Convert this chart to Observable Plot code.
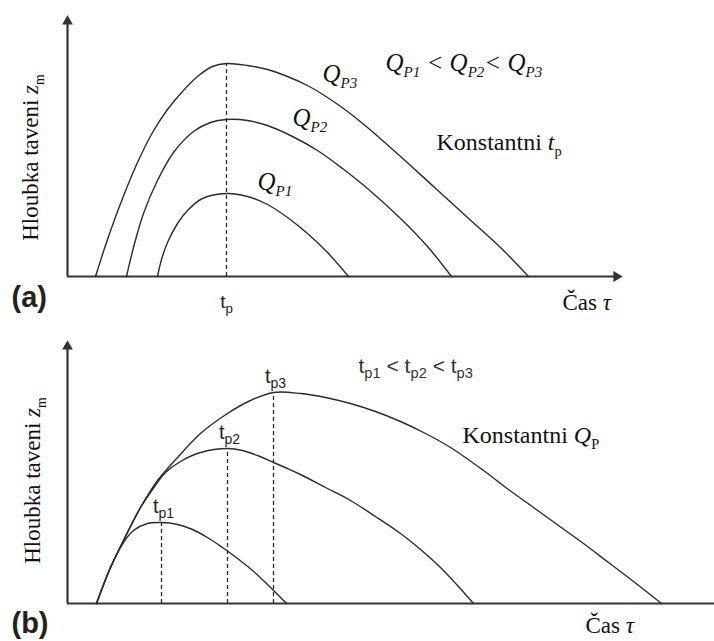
<!DOCTYPE html>
<html><head><meta charset="utf-8">
<script src="https://cdn.jsdelivr.net/npm/d3@7"></script>
<script src="https://cdn.jsdelivr.net/npm/@observablehq/plot@0.6"></script>
<style>
body{margin:0;background:#fff;}
#chart{width:714px;height:641px;position:relative;background:#fff;}
#chart svg{display:block;overflow:visible;}
</style></head><body><div id="chart"></div>
<script>
// ---------- Panel (a): constant t_p, three Q_P (time t, melt depth h; picture units)
const qp1 = [[90,0],[94,17],[100,34],[110,53],[120,66],[135,78],[159,83],[180,80],[200,72],[220,59],[240,43],[260,24],[281,0]];
const qp2 = [[59,0],[66,29],[76,63],[90,96],[106,124],[126,145],[143,154],[159,157],[180,156],[200,151],[225,140],[250,126],[275,108],[300,88],[333,58],[360,30],[384,0]];
const qp3 = [[28,0],[40,37],[55,78],[70,114],[85,144],[100,167],[115,185],[130,200],[145,210],[159,213],[180,211],[200,207],[220,200],[240,191],[260,179],[280,165],[300,149],[333,120],[366,90],[400,59],[433,29],[461,0]];
const seriesA = ["Q_P1", "Q_P2", "Q_P3"];
const peakA = [[159, 213]];
const axisTipA = [555, 261];       // end of time axis, end of depth axis

// ---------- Panel (b): constant Q_P, three t_p
const tp1 = [[29,0],[43,36],[56,61],[66,73],[80,80],[94,81],[110,79],[125,74],[140,66],[155,56],[170,45],[185,33],[200,19],[219,0]];
const tp2 = [[29,0],[43,36],[56,63],[73,96],[85,114],[98,131],[113,142],[133,151],[160,155],[175,153],[190,148],[206,141],[220,135],[233,129],[258,116],[283,103],[308,87],[333,70],[353,54],[373,36],[390,18],[406,0]];
const tp3 = [[29,0],[43,36],[56,63],[73,96],[90,123],[110,146],[133,170],[160,190],[183,203],[206,211],[233,210],[258,206],[283,200],[308,192],[333,182],[358,170],[383,156],[416,133],[441,114],[466,96],[491,78],[516,60],[541,41],[566,22],[594,0]];
const seriesB = ["t_p1", "t_p2", "t_p3"];
const peakB = [[94,81],[160,155],[206,211]];
const peakLabelsB = ["t_{p1}", "t_{p2}", "t_{p3}"];
const axisTipB = [647, 263];

// ---------- Texts
const yTitle = "Hloubka taveni *z*_{m}";
const xTitle = "Čas *τ*";
const panelTags = ["(a)", "(b)"];
const curveLabelsA = ["Q_{P1}", "Q_{P2}", "Q_{P3}"];
const orderA = "Q_{P1} < Q_{P2}< Q_{P3}";
const constA = "Konstantni *t*_{p}";
const peakLabelA = "t_{p}";
const orderB = "t_{p1} < t_{p2} < t_{p3}";
const constB = "Konstantni *Q*_{P}";

// annotation anchors (time, depth) in the same picture units
const curveLabelPosA = [[190,87],[225,151],[255,195]];

const INK = "#2b2b2b", AXIS = "#333";
const SERIF = "Liberation Serif", SANS = "Liberation Sans";

function tidy(names, arrays) {
  return names.flatMap((n, i) => arrays[i].map(([t, h]) => ({series: n, t, h})));
}
function pts(arr) { return arr.map(([t, h]) => ({t, h})); }

function richText(root) {
  for (const el of root.querySelectorAll("text")) {
    const s = el.textContent;
    if (!/\*|_\{/.test(s)) continue;
    const g = el.closest("[font-family]");
    const sans = g && /Sans/.test(g.getAttribute("font-family"));
    el.textContent = "";
    let shifted = false;
    const re = /\*([^*]+)\*|_\{([^}]*)\}|([^*_]+)/g;
    let m;
    while ((m = re.exec(s))) {
      const sp = document.createElementNS("http://www.w3.org/2000/svg", "tspan");
      if (m[2] !== undefined) {
        sp.textContent = m[2];
        sp.setAttribute("style", sans ? "font-size:70%" : "font-size:60%");
        sp.setAttribute("dy", sans ? "0.4em" : "0.45em");
        shifted = true;
      } else {
        sp.textContent = m[1] !== undefined ? m[1] : m[3];
        if (m[1] !== undefined) sp.setAttribute("font-style", "italic");
        if (shifted) { sp.setAttribute("dy", sans ? "-0.28em" : "-0.27em"); shifted = false; }
      }
      el.appendChild(sp);
    }
  }
}

function axesMarks(tip, arrowX) {
  const m = [
    Plot.ruleY([0], {x1: 0, x2: arrowX ? tip[0] - 6 : tip[0], stroke: AXIS, strokeWidth: 2.2}),
    Plot.ruleX([0], {y1: 0, y2: tip[1] - 6, stroke: AXIS, strokeWidth: 2.2}),
    Plot.dot([{t: 0, h: tip[1] - 6}], {x: "t", y: "h", symbol: "triangle", r: 4, fill: AXIS, stroke: "none"})
  ];
  if (arrowX) m.push(Plot.dot([{t: tip[0] - 6, h: 0}], {x: "t", y: "h", symbol: "triangle", r: 4, rotate: 90, fill: AXIS, stroke: "none"}));
  return m;
}

const chart = document.getElementById("chart");

// ----- Panel (a)
const plotA = Plot.plot({
  width: 714, height: 320,
  marginLeft: 67, marginRight: 0, marginTop: 0, marginBottom: 44,
  x: {domain: [0, 647], axis: null},
  y: {domain: [0, 276], axis: null},
  style: {background: "transparent", overflow: "visible"},
  marks: [
    axesMarks(axisTipA, true),
    Plot.ruleX(pts(peakA), {x: "t", y1: 0, y2: "h", stroke: INK, strokeWidth: 1.3, strokeDasharray: "4,3"}),
    Plot.line(tidy(seriesA, [qp1, qp2, qp3]), {x: "t", y: "h", z: "series", curve: "catmull-rom", stroke: INK, strokeWidth: 1.4}),
    Plot.text(curveLabelPosA.map(([t, h], i) => ({t, h, label: curveLabelsA[i]})), {x: "t", y: "h", text: "label", textAnchor: "start", lineAnchor: "bottom", fontFamily: SERIF, fontStyle: "italic", fontSize: 25, fill: "#111"}),
    Plot.text([{t: 318, h: 206, label: orderA}], {x: "t", y: "h", text: "label", textAnchor: "start", lineAnchor: "bottom", fontFamily: SERIF, fontStyle: "italic", fontSize: 25, fill: "#111"}),
    Plot.text([{t: 369, h: 127, label: constA}], {x: "t", y: "h", text: "label", textAnchor: "start", lineAnchor: "bottom", fontFamily: SERIF, fontSize: 24, fill: "#111"}),
    Plot.text([{t: 495, h: -33, label: xTitle}], {x: "t", y: "h", text: "label", textAnchor: "start", lineAnchor: "bottom", fontFamily: SERIF, fontSize: 23, fill: "#111"}),
    Plot.text([{t: -37, h: 119, label: yTitle}], {x: "t", y: "h", text: "label", rotate: -90, textAnchor: "middle", lineAnchor: "middle", fontFamily: SERIF, fontSize: 23, fill: "#111"}),
    Plot.text([{t: -56, h: -30, label: panelTags[0]}], {x: "t", y: "h", text: "label", textAnchor: "start", lineAnchor: "bottom", fontFamily: SANS, fontWeight: "bold", fontSize: 29, fill: "#222"}),
    Plot.text(pts(peakA).map(d => ({...d, label: peakLabelA})), {x: "t", y: () => -31, text: "label", textAnchor: "middle", lineAnchor: "bottom", fontFamily: SANS, fontSize: 19, fill: "#222"})
  ]
});
richText(plotA);
chart.appendChild(plotA);

// ----- Panel (b)
const plotB = Plot.plot({
  width: 714, height: 321,
  marginLeft: 67, marginRight: 0, marginTop: 0, marginBottom: 38,
  x: {domain: [0, 647], axis: null},
  y: {domain: [0, 283], axis: null},
  style: {background: "transparent", overflow: "visible"},
  marks: [
    axesMarks(axisTipB, false),
    Plot.ruleX(pts(peakB), {x: "t", y1: 0, y2: "h", stroke: INK, strokeWidth: 1.3, strokeDasharray: "4,3"}),
    Plot.line(tidy(seriesB, [tp1, tp2, tp3]), {x: "t", y: "h", z: "series", curve: "catmull-rom", stroke: INK, strokeWidth: 1.4}),
    Plot.text(pts(peakB).map((d, i) => ({...d, label: peakLabelsB[i]})), {x: "t", y: "h", text: "label", dx: 2, dy: -10, textAnchor: "middle", lineAnchor: "bottom", fontFamily: SANS, fontSize: 20, fill: "#222"}),
    Plot.text([{t: 291, h: 231, label: orderB}], {x: "t", y: "h", text: "label", textAnchor: "start", lineAnchor: "bottom", fontFamily: SANS, fontSize: 21, fill: "#333"}),
    Plot.text([{t: 395, h: 161, label: constB}], {x: "t", y: "h", text: "label", textAnchor: "start", lineAnchor: "bottom", fontFamily: SERIF, fontSize: 24, fill: "#111"}),
    Plot.text([{t: 518, h: -29, label: xTitle}], {x: "t", y: "h", text: "label", textAnchor: "start", lineAnchor: "bottom", fontFamily: SERIF, fontSize: 23, fill: "#111"}),
    Plot.text([{t: -35, h: 123, label: yTitle}], {x: "t", y: "h", text: "label", rotate: -90, textAnchor: "middle", lineAnchor: "middle", fontFamily: SERIF, fontSize: 23, fill: "#111"}),
    Plot.text([{t: -56, h: -29, label: panelTags[1]}], {x: "t", y: "h", text: "label", textAnchor: "start", lineAnchor: "bottom", fontFamily: SANS, fontWeight: "bold", fontSize: 29, fill: "#222"})
  ]
});
richText(plotB);
chart.appendChild(plotB);
</script>
</body></html>
